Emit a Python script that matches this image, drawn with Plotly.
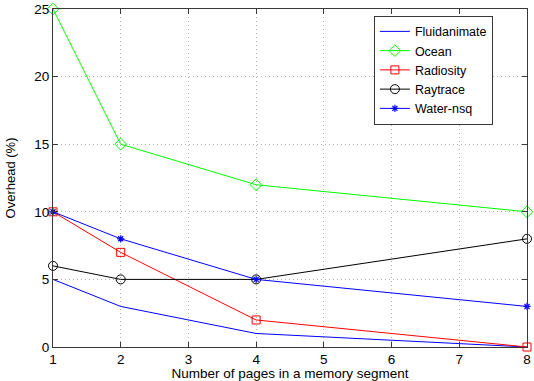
import plotly.graph_objects as go

x_pages = [1, 2, 4, 8]
fluidanimate = [5, 3, 1, 0]
ocean = [25, 15, 12, 10]
radiosity = [10, 7, 2, 0]
raytrace = [6, 5, 5, 8]
water_nsq = [10, 8, 5, 3]

x_ticks = [1, 2, 3, 4, 5, 6, 7, 8]
y_ticks = [0, 5, 10, 15, 20, 25]

FONT = "Liberation Sans, Arial"

fig = go.Figure()
fig.add_trace(go.Scatter(x=x_pages, y=fluidanimate, name="Fluidanimate", mode="lines",
                         line=dict(color="#0000ff", width=1), cliponaxis=False))
fig.add_trace(go.Scatter(x=x_pages, y=ocean, name="Ocean", mode="lines+markers",
                         line=dict(color="#00ff00", width=1), cliponaxis=False,
                         marker=dict(symbol="diamond-open", size=9, color="#00ff00", line=dict(width=1))))
fig.add_trace(go.Scatter(x=x_pages, y=radiosity, name="Radiosity", mode="lines+markers",
                         line=dict(color="#ff0000", width=1), cliponaxis=False,
                         marker=dict(symbol="square-open", size=8, color="#ff0000", line=dict(width=1))))
fig.add_trace(go.Scatter(x=x_pages, y=raytrace, name="Raytrace", mode="lines+markers",
                         line=dict(color="#000000", width=1), cliponaxis=False,
                         marker=dict(symbol="circle-open", size=9, color="#000000", line=dict(width=1))))
fig.add_trace(go.Scatter(x=x_pages, y=water_nsq, name="Water-nsq", mode="lines+markers",
                         line=dict(color="#0000ff", width=1), cliponaxis=False,
                         marker=dict(symbol="asterisk-open", size=6, color="#0000ff", line=dict(width=1.2, color="#0000ff"))))

axis_common = dict(showgrid=True, gridcolor="#b0b0b0", griddash="1px,3px", gridwidth=1,
                   showline=True, linecolor="#383838", linewidth=1, mirror="ticks",
                   ticks="inside", ticklen=5, tickcolor="#383838", zeroline=False,
                   automargin=False,
                   tickfont=dict(family=FONT, size=13.5, color="#000000"))

fig.update_xaxes(range=[1, 8], tickvals=x_ticks, **axis_common,
                 title=dict(text="Number of pages in a memory segment",
                            font=dict(family=FONT, size=13.5, color="#000000")))
fig.update_yaxes(range=[0, 25], tickvals=y_ticks, **axis_common,
                 title=dict(text="Overhead (%)",
                            font=dict(family=FONT, size=13, color="#000000")))

fig.update_layout(
    width=534, height=381,
    margin=dict(l=53, r=7, t=9, b=34),
    paper_bgcolor="white", plot_bgcolor="white",
    showlegend=True,
    legend=dict(x=0.677, y=0.98, xanchor="left", yanchor="top",
                bgcolor="white", bordercolor="#383838", borderwidth=1,
                font=dict(family=FONT, size=12.5, color="#000000"),
                tracegroupgap=0, itemwidth=30),
)

fig.write_html("out.html", config={"displayModeBar": False},
               post_script="document.body.style.margin='0';document.body.style.overflow='hidden';")
